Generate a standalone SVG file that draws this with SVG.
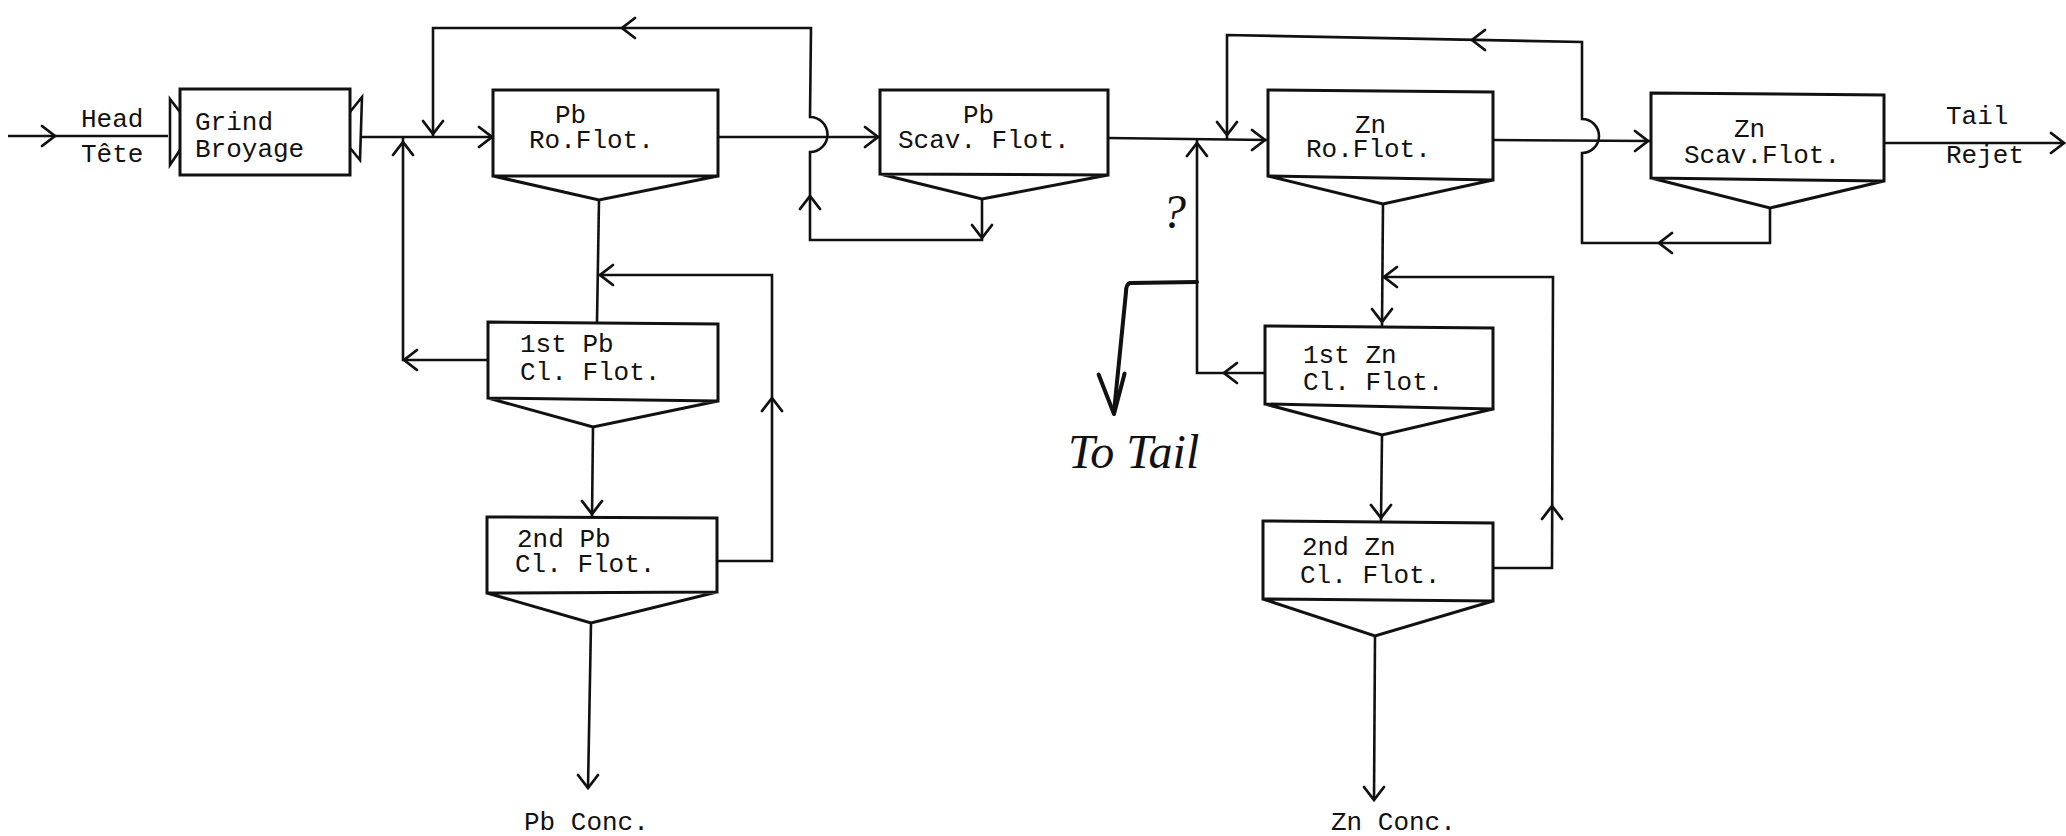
<svg xmlns="http://www.w3.org/2000/svg" xmlns:xlink="http://www.w3.org/1999/xlink" width="2066" height="836" viewBox="0 0 2066 836">
<style>
.box{fill:none;stroke:#111;stroke-width:3;stroke-linejoin:miter}
.ln{fill:none;stroke:#111;stroke-width:2.6;stroke-linejoin:miter}
.hand{fill:none;stroke:#111;stroke-width:4;stroke-linecap:round;stroke-linejoin:round}
.t{font-family:"Liberation Mono","DejaVu Sans Mono",monospace;font-size:26px;fill:#111}
.h{font-family:"Liberation Serif","DejaVu Serif",serif;font-style:italic;font-size:48px;fill:#111}
</style>
<defs>
<path id="chev" d="M-13,-10 L0,0 L-13,10" fill="none" stroke="#111" stroke-width="2.8" stroke-linecap="round"/>
<path id="chevH" d="M-40,-12 L0,0 L-40,14" fill="none" stroke="#111" stroke-width="4" stroke-linecap="round" stroke-linejoin="round"/>
</defs>
<rect width="2066" height="836" fill="#fff"/>

<g id="connectors">
  <!-- feed -->
  <path class="ln" d="M8,136 L168,136"/>
  <path class="ln" d="M362,137 L493,137"/>
  <!-- Pb rougher tails to Pb scav -->
  <path class="ln" d="M718,137 L880,137"/>
  <!-- Pb scav conc recycle to Pb rougher feed (with bridge) -->
  <path class="ln" d="M982,199 L982,240 L810,240 L810,152 A17.5,17.5 0 0 0 810,117 L811,28 L433,28 L433,137"/>
  <!-- Pb rougher conc to 1st cleaner -->
  <path class="ln" d="M599,200 L597,322"/>
  <!-- 1st Pb cleaner conc to 2nd -->
  <path class="ln" d="M593,427 L592,517"/>
  <!-- 2nd Pb cleaner conc -->
  <path class="ln" d="M591,623 L588,788"/>
  <!-- 1st Pb cleaner tails to rougher feed -->
  <path class="ln" d="M488,360 L403,360 L403,137"/>
  <!-- 2nd Pb cleaner tails to 1st cleaner feed -->
  <path class="ln" d="M717,561 L772,561 L772,275 L598,275"/>
  <!-- Pb scav tails to Zn rougher -->
  <path class="ln" d="M1108,138 L1268,140"/>
  <!-- 1st Zn cleaner tails back to Zn rougher feed -->
  <path class="ln" d="M1265,373 L1197,373 L1197,139"/>
  <!-- To Tail branch (handwritten) -->
  <path class="hand" d="M1197,282 L1130,283 Q1126,284 1126,292 L1114,412"/>
  <!-- Zn rougher conc to 1st cleaner -->
  <path class="ln" d="M1383,204 L1382,326"/>
  <!-- Zn rougher tails to Zn scav -->
  <path class="ln" d="M1493,140 L1651,141"/>
  <!-- Zn scav conc recycle to Zn rougher feed -->
  <path class="ln" d="M1770,208 L1770,243 L1582,243 L1582,153 A17,17 0 0 0 1582,119 L1582,42 L1227,35 L1227,140"/>
  <!-- 1st Zn -> 2nd Zn -->
  <path class="ln" d="M1382,435 L1381,521"/>
  <!-- 2nd Zn conc -->
  <path class="ln" d="M1375,636 L1374,800"/>
  <!-- 2nd Zn tails to 1st Zn feed -->
  <path class="ln" d="M1493,568 L1552,568 L1553,277 L1382,277"/>
  <!-- final tail -->
  <path class="ln" d="M1884,143 L2064,143"/>

  <!-- arrowheads -->
  <use xlink:href="#chev" transform="translate(55,136)"/>
  <use xlink:href="#chev" transform="translate(492,137)"/>
  <use xlink:href="#chev" transform="translate(433,134) rotate(90)"/>
  <use xlink:href="#chev" transform="translate(403,142) rotate(-90)"/>
  <use xlink:href="#chev" transform="translate(622,28) rotate(180)"/>
  <use xlink:href="#chev" transform="translate(878,137)"/>
  <use xlink:href="#chev" transform="translate(982,238) rotate(90)"/>
  <use xlink:href="#chev" transform="translate(810,196) rotate(-90)"/>
  <use xlink:href="#chev" transform="translate(600,275) rotate(180)"/>
  <use xlink:href="#chev" transform="translate(404,360) rotate(180)"/>
  <use xlink:href="#chev" transform="translate(592,514) rotate(90)"/>
  <use xlink:href="#chev" transform="translate(772,398) rotate(-90)"/>
  <use xlink:href="#chev" transform="translate(588,788) rotate(90)"/>
  <use xlink:href="#chev" transform="translate(1265,140)"/>
  <use xlink:href="#chev" transform="translate(1227,135) rotate(90)"/>
  <use xlink:href="#chev" transform="translate(1197,143) rotate(-90)"/>
  <use xlink:href="#chev" transform="translate(1472,40) rotate(180)"/>
  <use xlink:href="#chev" transform="translate(1648,141)"/>
  <use xlink:href="#chev" transform="translate(1659,243) rotate(180)"/>
  <use xlink:href="#chev" transform="translate(2064,143)"/>
  <use xlink:href="#chev" transform="translate(1384,277) rotate(180)"/>
  <use xlink:href="#chev" transform="translate(1382,322) rotate(90)"/>
  <use xlink:href="#chev" transform="translate(1224,373) rotate(180)"/>
  <use xlink:href="#chev" transform="translate(1381,518) rotate(90)"/>
  <use xlink:href="#chev" transform="translate(1552,506) rotate(-90)"/>
  <use xlink:href="#chev" transform="translate(1374,800) rotate(90)"/>
  <use xlink:href="#chevH" transform="translate(1114,414) rotate(88)"/>
</g>

<g id="grind">
  <rect class="box" x="180" y="89" width="170" height="86"/>
  <path class="ln" d="M180,112 L170,99 L170,165 L180,150"/>
  <path class="ln" d="M350,112 L362,97 L360,160 L350,148"/>
  <text class="t" x="195" y="130">Grind</text>
  <text class="t" x="195" y="157">Broyage</text>
</g>

<g id="pb-ro">
  <path class="box" d="M493,90 L718,90 L718,176 L493,176 Z M493,176 L599,200 L718,176"/>
  <text class="t" x="555" y="123">Pb</text>
  <text class="t" x="529" y="148">Ro.Flot.</text>
</g>

<g id="pb-scav">
  <path class="box" d="M880,90 L1108,90 L1108,175 L880,174 Z M880,174 L982,199 L1108,175"/>
  <text class="t" x="963" y="123">Pb</text>
  <text class="t" x="898" y="148">Scav. Flot.</text>
</g>

<g id="pb-cl1">
  <path class="box" d="M488,322 L718,324 L718,401 L488,398 Z M488,398 L593,427 L718,401"/>
  <text class="t" x="520" y="352">1st Pb</text>
  <text class="t" x="520" y="380">Cl. Flot.</text>
</g>

<g id="pb-cl2">
  <path class="box" d="M487,517 L717,518 L717,592 L487,593 Z M487,593 L591,623 L717,592"/>
  <text class="t" x="517" y="547">2nd Pb</text>
  <text class="t" x="515" y="572">Cl. Flot.</text>
</g>

<g id="zn-ro">
  <path class="box" d="M1268,90 L1493,92 L1493,180 L1268,176 Z M1268,176 L1383,204 L1493,180"/>
  <text class="t" x="1355" y="133">Zn</text>
  <text class="t" x="1306" y="157">Ro.Flot.</text>
</g>

<g id="zn-scav">
  <path class="box" d="M1651,93 L1884,95 L1884,181 L1651,178 Z M1651,178 L1770,208 L1884,181"/>
  <text class="t" x="1734" y="137">Zn</text>
  <text class="t" x="1684" y="163">Scav.Flot.</text>
</g>

<g id="zn-cl1">
  <path class="box" d="M1265,326 L1493,328 L1493,409 L1265,404 Z M1265,404 L1382,435 L1493,409"/>
  <text class="t" x="1303" y="363">1st Zn</text>
  <text class="t" x="1303" y="390">Cl. Flot.</text>
</g>

<g id="zn-cl2">
  <path class="box" d="M1263,521 L1493,523 L1493,601 L1263,599 Z M1263,599 L1375,636 L1493,601"/>
  <text class="t" x="1302" y="555">2nd Zn</text>
  <text class="t" x="1300" y="583">Cl. Flot.</text>
</g>

<g id="labels">
  <text class="t" x="81" y="127">Head</text>
  <text class="t" x="81" y="162">Tête</text>
  <text class="t" x="1946" y="124">Tail</text>
  <text class="t" x="1946" y="163">Rejet</text>
  <text class="t" x="524" y="830">Pb Conc.</text>
  <text class="t" x="1331" y="830">Zn Conc.</text>
  <text class="h" x="1162" y="228">?</text>
  <text class="h" x="1068" y="468">To Tail</text>
</g>
</svg>
